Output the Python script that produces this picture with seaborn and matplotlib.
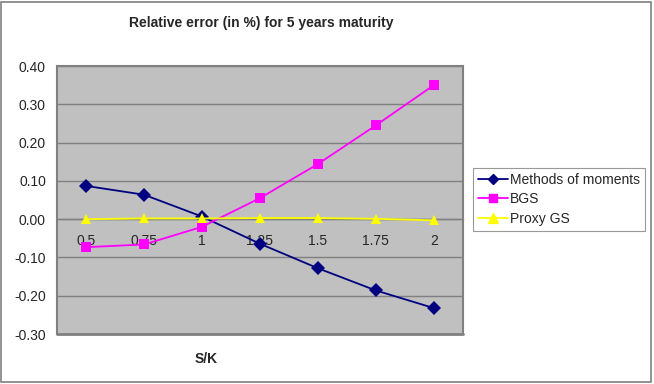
import matplotlib
matplotlib.use("Agg")
import matplotlib.pyplot as plt
import matplotlib.patches as mpatches
import pandas as pd
import seaborn as sns

# data
sk_labels = ["0.5", "0.75", "1", "1.25", "1.5", "1.75", "2"]
methods_of_moments = [0.087, 0.064, 0.007, -0.064, -0.128, -0.186, -0.232]
bgs = [-0.073, -0.066, -0.020, 0.055, 0.144, 0.245, 0.350]
proxy_gs = [0.000, 0.002, 0.002, 0.003, 0.003, 0.001, -0.003]
series_names = ["Methods of moments", "BGS", "Proxy GS"]
y_ticks = [0.40, 0.30, 0.20, 0.10, 0.00, -0.10, -0.20, -0.30]

NAVY = "#000080"
MAGENTA = "#FF00FF"
YELLOW = "#FFFF00"

sns.set_style("white")
plt.rcParams["font.family"] = ["Liberation Sans", "DejaVu Sans"]

rows = []
for name, vals in zip(series_names, [methods_of_moments, bgs, proxy_gs]):
    for i, v in enumerate(vals):
        rows.append({"pos": i, "value": v, "series": name})
df = pd.DataFrame(rows)

fig = plt.figure(figsize=(6.54, 3.84), dpi=100)
ax = fig.add_axes([0.0872, 0.130, 0.6203, 0.698])
ax.set_facecolor("#C0C0C0")

# horizontal gridlines
for yt in y_ticks:
    ax.axhline(yt, color="#808080", linewidth=1.0, zorder=0)

sns.lineplot(
    data=df, x="pos", y="value", hue="series", style="series",
    hue_order=series_names, style_order=series_names,
    palette=[NAVY, MAGENTA, YELLOW], markers=["D", "s", "^"],
    dashes=False, linewidth=1.3, markersize=7, markeredgewidth=0,
    ax=ax, legend=False, zorder=3,
)

ax.set_xlim(-0.5, len(sk_labels) - 0.5)
ax.set_ylim(-0.30, 0.40)
ax.set_yticks(y_ticks)
ax.set_yticklabels([f"{t:.2f}" for t in y_ticks], fontsize=10)
ax.tick_params(axis="y", length=4, color="#000000", pad=4, direction="out")

# category axis crosses at zero: ticks between categories, labels at centres
ax.spines["bottom"].set_position(("data", 0))
ax.spines["bottom"].set_color("#808080")
ax.set_xticks([i - 0.5 for i in range(1, len(sk_labels))])
ax.set_xticklabels([])
ax.set_xticks(range(len(sk_labels)), minor=True)
ax.set_xticklabels(sk_labels, minor=True, fontsize=10)
ax.tick_params(axis="x", which="major", length=4, color="#808080", direction="out")
ax.tick_params(axis="x", which="minor", length=0, pad=11)
for side in ["top", "right", "left"]:
    ax.spines[side].set_color("#808080")
    ax.spines[side].set_linewidth(1.5)
ax.spines["bottom"].set_linewidth(1.0)
# bottom frame of plot area
ax.axhline(-0.30, color="#808080", linewidth=2.0, zorder=4, clip_on=False)
ax.set_xlabel("")
ax.set_ylabel("")

fig.text(0.400, 0.941, "Relative error (in %) for 5 years maturity",
         ha="center", va="center", fontsize=10, fontweight="bold")
fig.text(0.315, 0.066, "S/K", ha="center", va="center",
         fontsize=10, fontweight="bold")

handles = [
    plt.Line2D([], [], color=NAVY, marker="D", markersize=5, linewidth=1.3),
    plt.Line2D([], [], color=MAGENTA, marker="s", markersize=6, linewidth=1.3),
    plt.Line2D([], [], color=YELLOW, marker="^", markersize=6.5, linewidth=1.3),
]
leg = fig.legend(handles, series_names, loc="upper left",
                 bbox_to_anchor=(0.723, 0.563), fontsize=10,
                 frameon=True, fancybox=False, handlelength=2.2,
                 borderpad=0.35, labelspacing=0.4, handletextpad=0.15,
                 borderaxespad=0)
leg.get_frame().set_edgecolor("#808080")
leg.get_frame().set_linewidth(0.8)

# outer chart border
fig.patches.append(mpatches.Rectangle((0.002, 0.004), 0.994, 0.992,
                                      transform=fig.transFigure, fill=False,
                                      edgecolor="#808080", linewidth=1.2))

fig.savefig("out.png", dpi=100)
